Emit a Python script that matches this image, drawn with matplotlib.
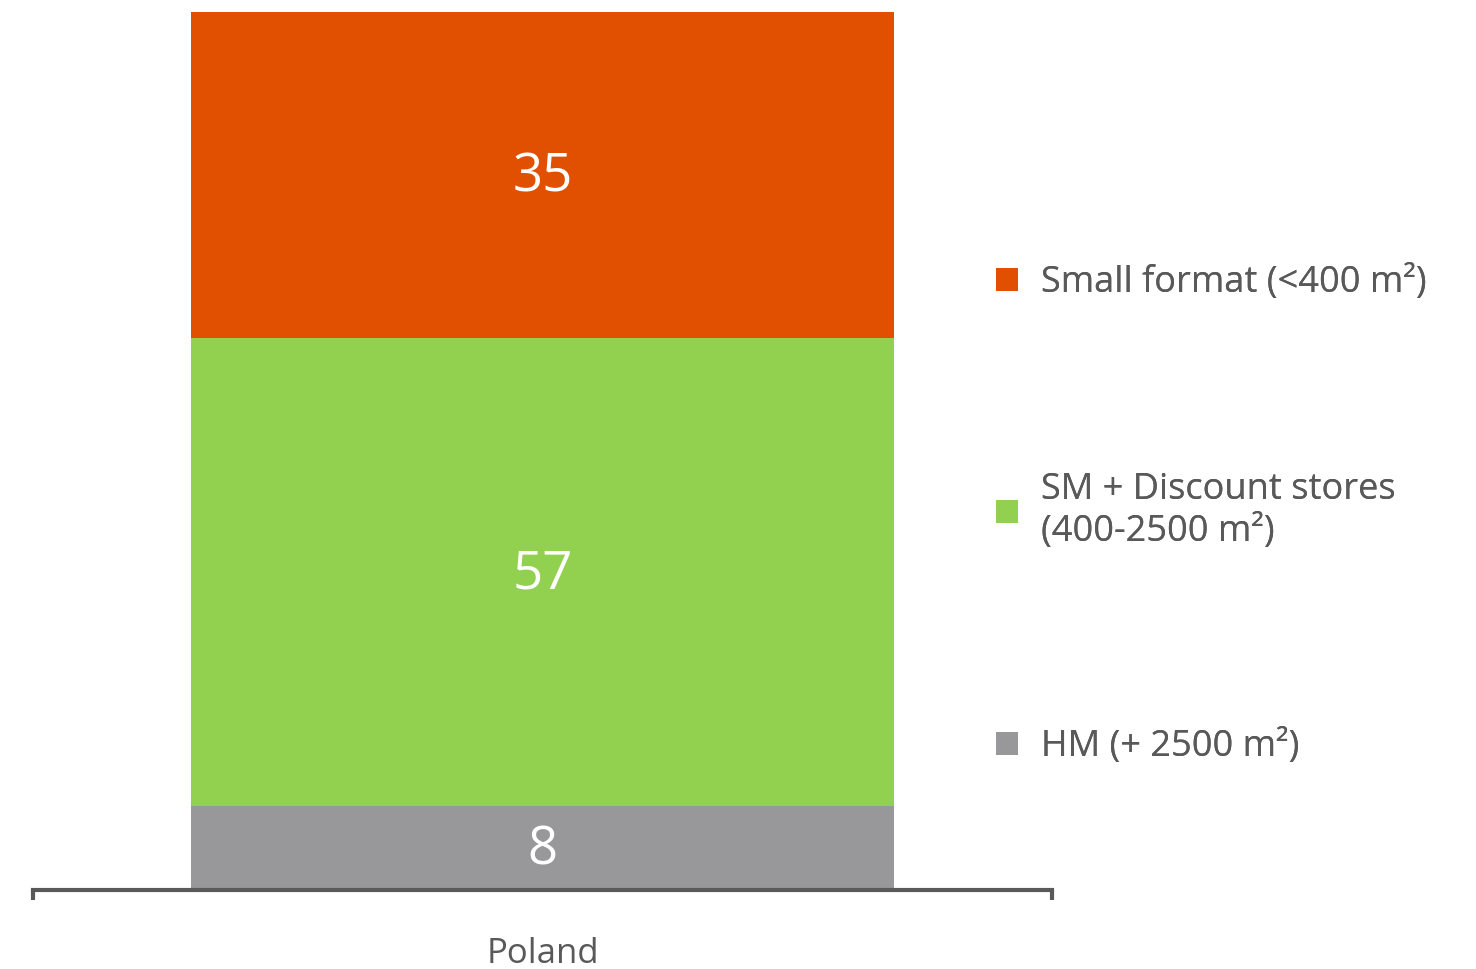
import matplotlib
matplotlib.use('Agg')
import matplotlib.pyplot as plt

# ── Data ─────────────────────────────────────────────────────────────────────
category = 'Poland'
segments = ['HM (+ 2500 m²)', 'SM + Discount stores\n(400-2500 m²)', 'Small format (<400 m²)']
heights = [9.6, 53.3, 37.1]        # drawn segment heights (%), as in the picture
value_labels = ['8', '57', '35']   # printed values
colors = ['#98989A', '#92D050', '#E15000']

TEXT = '#595959'
FONT = ['Open Sans', 'DejaVu Sans']

fig = plt.figure(figsize=(14.76, 9.69), dpi=100)
ax = fig.add_axes([33/1476, 1 - 890/969, (1052 - 33)/1476, (890 - 12)/969])

# ── Stacked bar ──────────────────────────────────────────────────────────────
bottom = 0.0
bars = []
for h, lab, c, name in zip(heights, value_labels, colors, segments):
    b = ax.bar(0, h, width=0.689, bottom=bottom, color=c, label=name, zorder=2)
    bars.append(b)
    ax.text(0, bottom + h / 2 - 0.3, lab, ha='center', va='center', color='white',
            fontsize=38, family=FONT)
    bottom += h

ax.set_xlim(-0.5, 0.5)
ax.set_ylim(0, bottom)

# axis: only bottom line with end ticks
for s in ['top', 'right', 'left']:
    ax.spines[s].set_visible(False)
ax.spines['bottom'].set_color(TEXT)
ax.spines['bottom'].set_linewidth(3)
ax.set_yticks([])
ax.set_xticks([0], [category])
ax.tick_params(axis='x', which='major', length=0, pad=34, labelsize=25, labelcolor=TEXT)
ax.set_xticks([-0.5, 0.5], minor=True)
ax.tick_params(axis='x', which='minor', length=7, width=3, color=TEXT, direction='out')
for t in ax.get_xticklabels():
    t.set_family(FONT)

# ── Legend (one entry per row, placed like the original) ─────────────────────
legend_y = [747, 511, 283]   # pixel rows of the entries, HM / SM / Small
for b, name, y in zip(bars, segments, legend_y):
    leg = fig.legend([b], [name], loc='center left', bbox_to_anchor=(996/1476, 1 - y/969),
                     frameon=False, borderpad=0, borderaxespad=0, handlelength=0.6,
                     handleheight=0.6, handletextpad=0.65, labelcolor=TEXT,
                     prop={'family': FONT, 'size': 26})
    for t in leg.get_texts():
        t.set_linespacing(1.25)
    fig.add_artist(leg)

fig.savefig('out.png', dpi=100)
